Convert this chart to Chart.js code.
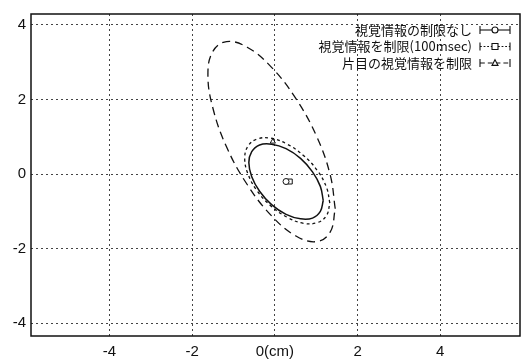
<!DOCTYPE html>
<html>
<head>
<meta charset="utf-8">
<script src="https://cdn.jsdelivr.net/npm/chart.js@4.4.0/dist/chart.umd.min.js"></script>
<style>
  html, body { margin: 0; padding: 0; background: #fff; }
  #chart { display: block; }
</style>
</head>
<body>
<canvas id="chart" width="525" height="360"></canvas>
<script>
// legend labels
var labels = ['視覚情報の制限なし', '視覚情報を制限(100msec)', '片目の視覚情報を制限'];

// ellipse outlines, points (x cm, y cm)
var ellipseNoLimit = [[1.17,-0.71],[1.10,-0.33],[0.91,0.06],[0.62,0.42],[0.27,0.68],[-0.08,0.80],[-0.37,0.78],[-0.56,0.60],
  [-0.63,0.31],[-0.56,-0.07],[-0.37,-0.46],[-0.08,-0.82],[0.27,-1.08],[0.62,-1.20],[0.91,-1.18],[1.10,-1.00],[1.17,-0.71]];
var ellipse100ms = [[1.33,-0.78],[1.25,-0.36],[1.03,0.09],[0.69,0.50],[0.30,0.80],[-0.09,0.96],[-0.43,0.94],[-0.65,0.75],
  [-0.73,0.42],[-0.65,0.00],[-0.43,-0.45],[-0.09,-0.86],[0.30,-1.16],[0.69,-1.32],[1.03,-1.30],[1.25,-1.11],[1.33,-0.78]];
var ellipseOneEye = [[1.46,-0.93],[1.34,-0.03],[1.01,1.01],[0.51,2.02],[-0.08,2.86],[-0.67,3.40],[-1.17,3.55],[-1.50,3.29],
  [-1.62,2.67],[-1.50,1.77],[-1.17,0.73],[-0.67,-0.28],[-0.08,-1.12],[0.51,-1.66],[1.01,-1.81],[1.34,-1.55],[1.46,-0.93]];

// mean positions
var meanNoLimit = [0.27, -0.20];
var mean100ms = [0.36, -0.20];
var meanOneEye = [-0.05, 0.87];

// tick values
var xTicks = [-4, -2, 0, 2, 4];
var yTicks = [-4, -2, 0, 2, 4];

function toPoints(arr) {
  return arr.map(function(p) { return {x: p[0], y: p[1]}; });
}

var lineStyles = [[], [3, 3], [8, 5]];
var markerStyles = ['circle', 'rect', 'triangle'];
var ellipses = [ellipseNoLimit, ellipse100ms, ellipseOneEye];
var means = [meanNoLimit, mean100ms, meanOneEye];

var datasets = [];
for (var i = 0; i < 3; i++) {
  datasets.push({
    label: labels[i],
    data: toPoints(ellipses[i]),
    showLine: true,
    tension: 0.4,
    borderColor: '#111',
    borderWidth: i == 0 ? 1.5 : 1.3,
    borderDash: lineStyles[i],
    pointRadius: 0,
    fill: false
  });
}
for (var i = 0; i < 3; i++) {
  datasets.push({
    label: labels[i] + ' mean',
    data: [{x: means[i][0], y: means[i][1]}],
    showLine: false,
    pointStyle: markerStyles[i],
    pointRadius: i == 1 ? 3.5 : 3,
    backgroundColor: '#fff',
    borderColor: '#111',
    borderWidth: 1
  });
}

// frame around the plot area
var framePlugin = {
  id: 'frame',
  afterDraw: function(chart) {
    var a = chart.chartArea;
    var ctx = chart.ctx;
    ctx.save();
    ctx.strokeStyle = '#111';
    ctx.lineWidth = 1.5;
    ctx.setLineDash([]);
    ctx.strokeRect(a.left, a.top, a.right - a.left, a.bottom - a.top);
    ctx.restore();
  }
};

function drawMarker(ctx, style, x, y, r) {
  ctx.beginPath();
  if (style == 'circle') {
    ctx.arc(x, y, r, 0, Math.PI * 2);
  } else if (style == 'rect') {
    ctx.rect(x - r, y - r, r * 2, r * 2);
  } else {
    ctx.moveTo(x, y - r * 1.1);
    ctx.lineTo(x + r, y + r * 0.8);
    ctx.lineTo(x - r, y + r * 0.8);
    ctx.closePath();
  }
  ctx.fillStyle = '#fff';
  ctx.fill();
  ctx.stroke();
}

// gnuplot style legend: right aligned text, sample on the right
var legendPlugin = {
  id: 'sideLegend',
  afterDraw: function(chart) {
    var a = chart.chartArea;
    var ctx = chart.ctx;
    var x2 = a.right - 10;
    var x1 = x2 - 30;
    ctx.save();
    ctx.font = '13px "Noto Sans CJK JP"';
    ctx.textAlign = 'right';
    ctx.textBaseline = 'middle';
    ctx.strokeStyle = '#111';
    ctx.lineWidth = 1.1;
    for (var i = 0; i < 3; i++) {
      var y = a.top + 16 + i * 16.5;
      ctx.fillStyle = '#111';
      ctx.fillText(labels[i], x1 - 8, y);
      ctx.setLineDash(lineStyles[i].map(function(v) { return v * 0.6; }));
      ctx.beginPath();
      ctx.moveTo(x1, y);
      ctx.lineTo(x2, y);
      ctx.stroke();
      ctx.setLineDash([]);
      ctx.beginPath();
      ctx.moveTo(x1, y - 4);
      ctx.lineTo(x1, y + 4);
      ctx.moveTo(x2, y - 4);
      ctx.lineTo(x2, y + 4);
      ctx.stroke();
      drawMarker(ctx, markerStyles[i], (x1 + x2) / 2, y, 3);
    }
    ctx.restore();
  }
};

var tickFont = {family: '"Liberation Sans", Arial, sans-serif', size: 15};

var config = {
  type: 'scatter',
  data: {datasets: datasets},
  options: {
    responsive: false,
    animation: false,
    layout: {padding: {top: 10, right: 3, left: 0, bottom: 0}},
    plugins: {
      legend: {display: false},
      tooltip: {enabled: false}
    },
    scales: {
      x: {
        type: 'linear',
        min: -5.9,
        max: 5.93,
        afterBuildTicks: function(s) {
          s.ticks = xTicks.map(function(v) { return {value: v}; });
        },
        afterFit: function(s) { s.height = 24; },
        ticks: {
          color: '#111',
          font: tickFont,
          padding: 7,
          maxRotation: 0,
          callback: function(v) { return v === 0 ? '0(cm)' : v; }
        },
        grid: {color: '#444', lineWidth: 1, drawTicks: false},
        border: {display: false, dash: [2, 3]}
      },
      y: {
        type: 'linear',
        min: -4.34,
        max: 4.29,
        afterBuildTicks: function(s) {
          s.ticks = yTicks.map(function(v) { return {value: v}; });
        },
        afterFit: function(s) { s.width = 31; },
        ticks: {
          color: '#111',
          font: tickFont,
          padding: 5
        },
        grid: {color: '#444', lineWidth: 1, drawTicks: false},
        border: {display: false, dash: [2, 3]}
      }
    }
  },
  plugins: [framePlugin, legendPlugin]
};

var chart = new Chart(document.getElementById('chart'), config);
</script>
</body>
</html>
